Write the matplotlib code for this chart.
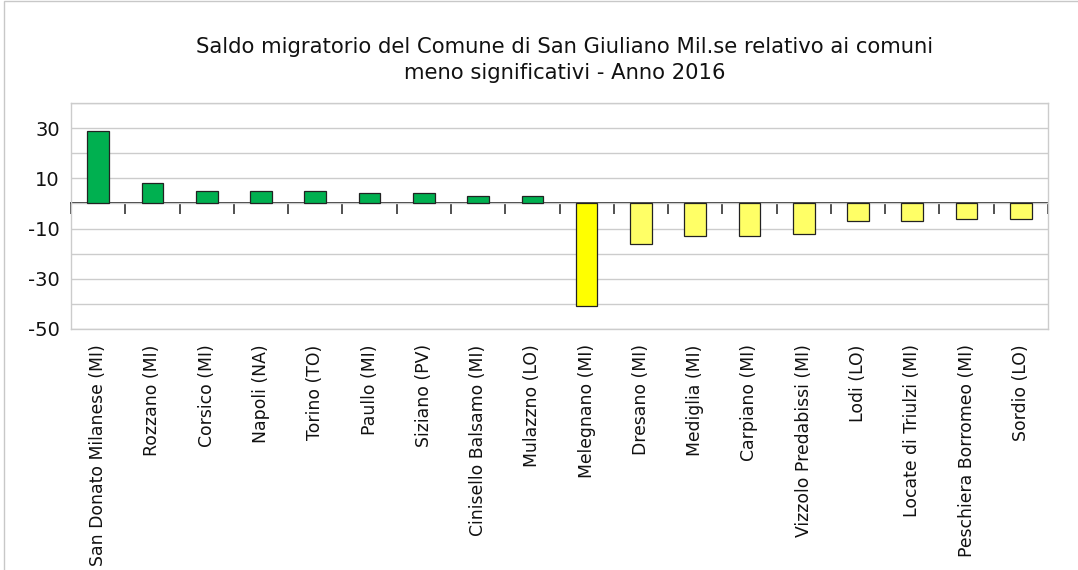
import numpy as np
import matplotlib
matplotlib.use("Agg")
import matplotlib.pyplot as plt
from matplotlib.patches import Rectangle

comuni = ["San Donato Milanese (MI)", "Rozzano (MI)", "Corsico (MI)", "Napoli (NA)",
          "Torino (TO)", "Paullo (MI)", "Siziano (PV)", "Cinisello Balsamo (MI)",
          "Mulazzno (LO)", "Melegnano (MI)", "Dresano (MI)", "Mediglia (MI)",
          "Carpiano (MI)", "Vizzolo Predabissi (MI)", "Lodi (LO)",
          "Locate di Triulzi (MI)", "Peschiera Borromeo (MI)", "Sordio (LO)"]
saldo = [29, 8, 5, 5, 5, 4, 4, 3, 3, -41, -16, -13, -13, -12, -7, -7, -6, -6]
y_labels = [-50, -30, -10, 10, 30]
y_grid = list(range(-50, 41, 10))

title = ("Saldo migratorio del Comune di San Giuliano Mil.se relativo ai comuni\n"
         "meno significativi - Anno 2016")

green = "#00b050"
yellow_strong = "#ffff00"
yellow_light = "#ffff66"
grid_col = "#cccccc"

plt.rcParams['font.family'] = ['DejaVu Sans']
plt.rcParams['axes.unicode_minus'] = False

fig = plt.figure(figsize=(10.78, 5.70), dpi=100)
ax = fig.add_axes([71/1078, 1-329/570, (1048-71)/1078, (329-103)/570])

x = np.arange(len(comuni))
colors = []
for v in saldo:
    if v >= 0:
        colors.append(green)
    else:
        colors.append(yellow_light)
colors[int(np.argmin(saldo))] = yellow_strong

ax.bar(x, saldo, width=0.4, color=colors, edgecolor="#222222", linewidth=0.9, zorder=3)

ax.set_xlim(-0.5, len(comuni) - 0.5)
ax.set_ylim(-50, 40)
ax.set_yticks(y_labels)
ax.set_yticks(y_grid, minor=True)
ax.grid(axis='y', which='both', color=grid_col, linewidth=1.0, zorder=0)
ax.tick_params(axis='y', which='both', length=0, pad=8, labelsize=14, colors='#111111')

ax.set_xticks(x)
ax.set_xticklabels(comuni, rotation=90, fontsize=12.4)
ax.tick_params(axis='x', length=0, pad=11, colors='#111111')

for s in ax.spines.values():
    s.set_color(grid_col)
    s.set_linewidth(1.0)

# zero line with category separators
zero_pos = (0 - ax.get_ylim()[0]) / (ax.get_ylim()[1] - ax.get_ylim()[0])
sec = ax.secondary_xaxis(zero_pos)
sec.set_xticks(np.arange(len(comuni) + 1) - 0.5)
sec.set_xticklabels([])
sec.tick_params(axis='x', direction='in', length=8, width=1.1, color='#222222')
for s in sec.spines.values():
    s.set_color('#333333')
    s.set_linewidth(1.4)

fig.text(565/1078, 1 - 60/570, title, ha='center', va='center', fontsize=15.2,
         linespacing=1.4, color='#111111')

# outer chart border (cut off on the right and bottom)
fig.patches.append(Rectangle((4/1078, -0.1), 1.2, 1.1 - 1/570, transform=fig.transFigure,
                             fill=False, edgecolor='#c8c8c8', linewidth=1.0))

fig.savefig("out.png", dpi=100, facecolor='white')
